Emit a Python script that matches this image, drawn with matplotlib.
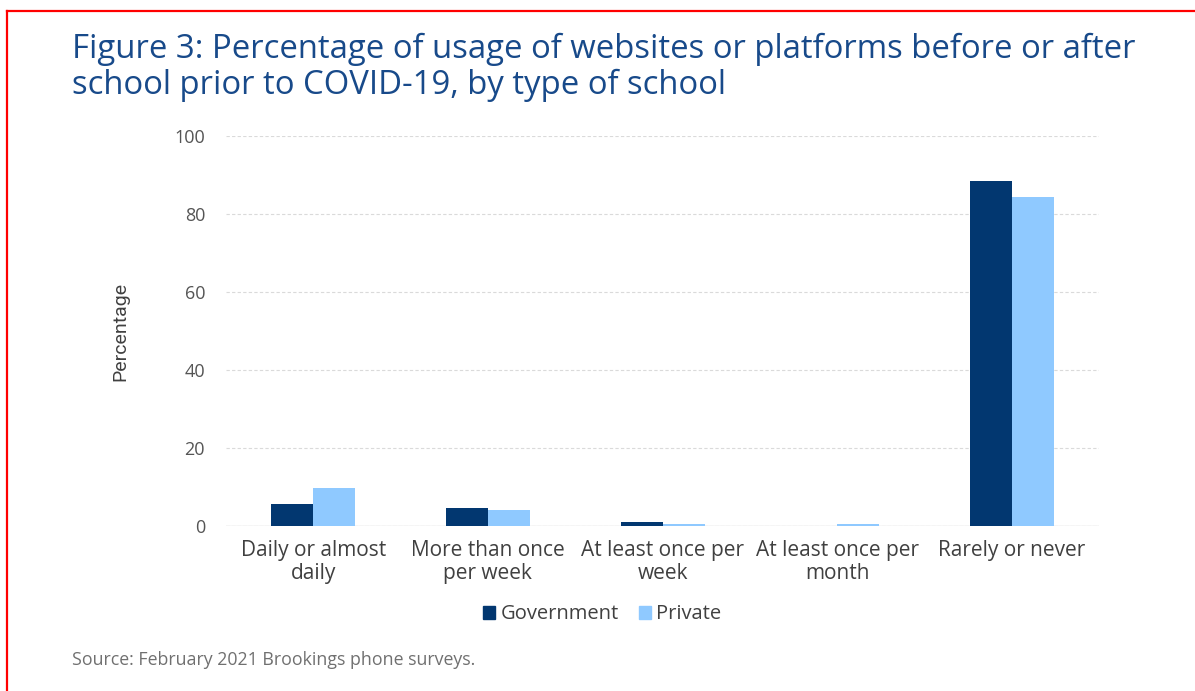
import matplotlib.pyplot as plt
import numpy as np
from matplotlib.lines import Line2D
from matplotlib.patches import Patch

# Частота использования сайтов/платформ до или после школы (до COVID-19)
categories = [
    'Daily or almost\ndaily',
    'More than once\nper week',
    'At least once per\nweek',
    'At least once per\nmonth',
    'Rarely or never',
]
government = [5.6, 4.5, 1.0, 0.0, 88.5]
private = [9.8, 4.2, 0.6, 0.6, 84.4]

series_names = ['Government', 'Private']
series_colors = ['#023770', '#8FC9FF']

plt.rcParams['font.family'] = ['Open Sans', 'DejaVu Sans']

fig = plt.figure(figsize=(11.95, 6.91), dpi=100)
ax = fig.add_axes([0.189, 0.2388, 0.731, 0.5644])

x = np.arange(len(categories))
w = 0.24
ax.bar(x - w / 2, government, w, color=series_colors[0], zorder=3)
ax.bar(x + w / 2, private, w, color=series_colors[1], zorder=3)

ax.set_xlim(-0.5, len(categories) - 0.5)
ax.set_ylim(0, 100)
ax.set_yticks(np.arange(0, 101, 20))
ax.yaxis.grid(True, color='#DADADA', linestyle=(0, (3, 2)), linewidth=0.8, zorder=0)
ax.axhline(0, color='#D9D9D9', linewidth=1, zorder=2)

for s in ax.spines.values():
    s.set_visible(False)
ax.tick_params(axis='both', length=0, colors='#555555', labelsize=13)
ax.tick_params(axis='y', pad=15)
ax.tick_params(axis='x', pad=10)
ax.set_xticks(x)
ax.set_xticklabels(categories, color='#404040', fontsize=15, linespacing=1.12)

ax.set_ylabel('Percentage', fontsize=14, color='#404040', labelpad=32,
              family=['Roboto', 'DejaVu Sans'])

handles = [Patch(color=c, label=n) for n, c in zip(series_names, series_colors)]
fig.legend(handles=handles, loc='center', bbox_to_anchor=(0.504, 0.111),
           ncol=2, frameon=False, fontsize=14.5, handlelength=0.6,
           handleheight=0.6, handletextpad=0.25, columnspacing=1.0,
           labelcolor='#404040')

# Заголовок и источник
fig.text(0.0603, 0.952, 'Figure 3: Percentage of usage of websites or platforms before or after\n'
         'school prior to COVID-19, by type of school',
         fontsize=23.7, color='#184A8A', va='top', ha='left', linespacing=1.08)
fig.text(0.0603, 0.045, 'Source: February 2021 Brookings phone surveys.',
         fontsize=12.8, color='#707070', ha='left', va='center')

# Красная рамка (видны только верхняя и левая стороны)
fig.add_artist(Line2D([7 / 1195, 7 / 1195], [0, 1 - 11 / 691], color='#FF0000',
                      linewidth=1.6, transform=fig.transFigure))
fig.add_artist(Line2D([7 / 1195, 1], [1 - 11 / 691, 1 - 11 / 691], color='#FF0000',
                      linewidth=1.6, transform=fig.transFigure))

plt.savefig('out.png', dpi=100)
